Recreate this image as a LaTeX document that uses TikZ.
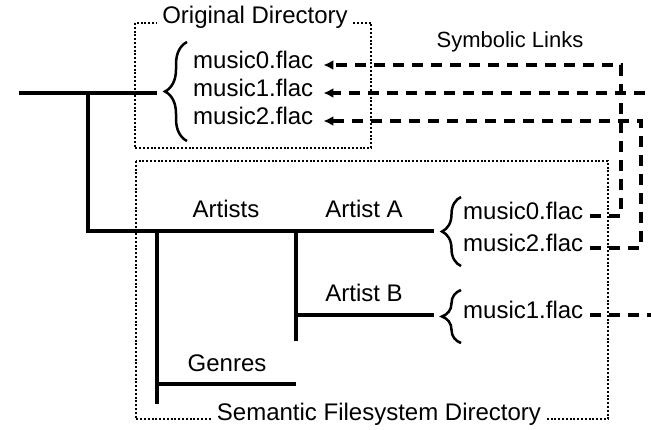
\documentclass[tikz,border=0pt]{standalone}
\usepackage{fontspec}
\setmainfont{Liberation Sans}
\usetikzlibrary{arrows.meta,decorations.pathreplacing}
\begin{document}
\begin{tikzpicture}[x=1pt,y=-1pt,
  lbl/.style={font=\fontsize{24}{28}\selectfont, inner sep=0pt, text height=.72em, text depth=0pt},
  file/.style={lbl, anchor=west},
  tree/.style={line width=3.3pt},
  frame/.style={line width=2.5pt, dash pattern=on 2pt off 1.8pt},
  link/.style={line width=3.2pt, dash pattern=on 11pt off 8pt},
  tip/.style={-{Latex[length=10pt,width=10pt]}},
  curly/.style={line width=2.5pt, decorate, decoration={brace, amplitude=#1}},
  boxlabel/.style={lbl, fill=white, inner xsep=5pt, inner ysep=2pt}
]
\useasboundingbox (0,0) rectangle (651,429);

% dotted directory frames
\draw[frame] (135,23) rectangle (371,148);
\node[boxlabel] (origlbl) at (255,20) {Original Directory};
\draw[frame] (136,161) rectangle (608,419);
\node[boxlabel] (semlbl) at (379,417) {Semantic Filesystem Directory};

% directory tree
\coordinate (root) at (19,93);
\coordinate (j0) at (88,93);
\coordinate (top) at (157,93);
\coordinate (j1) at (88,231);
\coordinate (aend) at (434,231);
\coordinate (art) at (157,231);
\coordinate (artbot) at (157,404);
\coordinate (gen) at (157,384);
\coordinate (genend) at (296,384);
\coordinate (aa) at (296,231);
\coordinate (aabot) at (296,341);
\coordinate (ab) at (296,315);
\coordinate (abend) at (434,315);
\draw[tree] (root) -- (top);
\draw[tree] (j0) -- (j1) -- (aend);
\draw[tree] (art) -- (artbot);
\draw[tree] (gen) -- (genend);
\draw[tree] (aa) -- (aabot);
\draw[tree] (ab) -- (abend);

\node[lbl] (artists) at (226,214) {Artists};
\node[lbl] (artA) at (364,214) {Artist A};
\node[lbl] (artB) at (364,298) {Artist B};
\node[lbl] (genres) at (227,368) {Genres};

% braces
\draw[curly=22pt] (187,141) -- (187,42);
\draw[curly=19pt] (461,266) -- (461,197);
\draw[curly=19pt] (461,343) -- (461,290);

% files
\node[file] (o0) at (193,65) {music0.flac};
\node[file] (o1) at (193,93) {music1.flac};
\node[file] (o2) at (193,121) {music2.flac};
\node[file] (a0) at (463,216) {music0.flac};
\node[file] (a2) at (463,248) {music2.flac};
\node[file] (b1) at (463,315) {music1.flac};

% symbolic links
\coordinate (c0) at (621,0);
\coordinate (c1) at (668,0);
\coordinate (c2) at (641,0);
\draw[link,tip] ([xshift=7pt]a0.east) -- (a0.east -| c0) -- (o0.east -| c0) -- ([xshift=10pt]o0.east);
\draw[link,tip] ([xshift=7pt]b1.east) -- (b1.east -| c1) -- (o1.east -| c1) -- ([xshift=10pt]o1.east);
\draw[link,tip] ([xshift=7pt]a2.east) -- (a2.east -| c2) -- (o2.east -| c2) -- ([xshift=10pt]o2.east);
\node[lbl, font=\fontsize{22}{26}\selectfont] (symlbl) at (510,44) {Symbolic Links};
\end{tikzpicture}
\end{document}
